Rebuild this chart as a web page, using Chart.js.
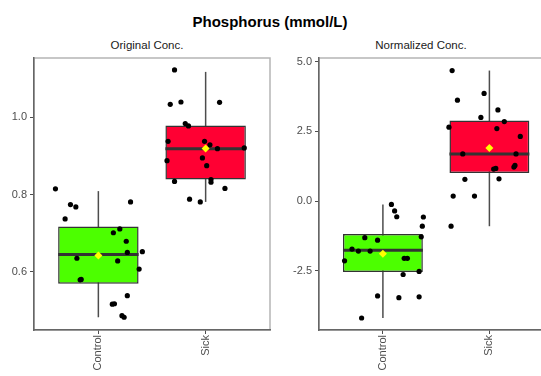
<!DOCTYPE html>
<html>
<head>
<meta charset="utf-8">
<script src="https://cdn.jsdelivr.net/npm/chart.js@4.4.1/dist/chart.umd.min.js"></script>
<style>
  body { margin: 0; width: 541px; height: 376px; overflow: hidden; background: #fff; position: relative;
         font-family: "Liberation Sans", Arial, sans-serif; }
  .title { position: absolute; left: 270px; top: 21px; transform: translate(-50%, -50%);
           font-weight: bold; font-size: 15px; color: #000; white-space: nowrap; }
  .sub { position: absolute; top: 45px; transform: translate(-50%, -50%);
         font-size: 11.5px; color: #1a1a1a; white-space: nowrap; }
  .panel { position: absolute; top: 0; height: 376px; }
</style>
</head>
<body>
<div class="title">Phosphorus (mmol/L)</div>
<div class="sub" style="left:147px">Original Conc.</div>
<div class="sub" style="left:421px">Normalized Conc.</div>
<div class="panel" style="left:0;width:280px"><canvas id="origChart"></canvas></div>
<div class="panel" style="left:275px;width:290px"><canvas id="normChart"></canvas></div>
<script>
const groups = ['Control', 'Sick'];

// original concentration, one value per sample, with horizontal jitter (in category units)
const origControl = [0.815, 0.774, 0.768, 0.737, 0.781, 0.701, 0.711, 0.679, 0.650, 0.652,
                     0.635, 0.628, 0.607, 0.579, 0.580, 0.538, 0.516, 0.517, 0.486, 0.482];
const origControlJitter = [-0.40, -0.26, -0.21, -0.31, 0.30, 0.14, 0.20, 0.26, 0.27, 0.41,
                           -0.20, 0.18, 0.38, -0.17, -0.16, 0.27, 0.13, 0.15, 0.22, 0.24];
const origSick = [1.123, 1.034, 1.040, 1.039, 0.984, 0.978, 0.938, 0.938, 0.929, 0.919,
                  0.921, 0.888, 0.895, 0.875, 0.834, 0.839, 0.832, 0.816, 0.788, 0.781];
const origSickJitter = [-0.29, -0.33, -0.23, 0.13, -0.19, -0.16, -0.35, -0.01, 0.04, 0.11,
                        0.36, -0.36, -0.03, 0.01, -0.29, 0.05, 0.05, 0.18, -0.15, -0.05];

// box stats [Control, Sick]
const origLower = [0.482, 0.781];
const origQ1 = [0.569, 0.839];
const origMedian = [0.645, 0.919];
const origQ3 = [0.717, 0.979];
const origUpper = [0.809, 1.118];
const origTicks = [0.6, 0.8, 1.0];
const origRange = [0.449, 1.154];

// normalized concentration
const normControl = [-0.12, -0.35, -0.56, -0.57, -0.90, -1.28, -1.31, -1.40, -1.72, -1.79,
                     -1.79, -2.14, -2.05, -2.05, -2.52, -2.63, -3.40, -3.46, -3.43, -4.19];
const normControlJitter = [0.08, 0.11, 0.13, 0.38, 0.37, 0.36, -0.17, -0.05, -0.29, -0.23,
                           -0.12, -0.36, 0.20, 0.23, 0.34, 0.19, -0.05, 0.15, 0.34, -0.20];
const normSick = [4.68, 3.62, 3.86, 3.27, 3.00, 2.85, 2.65, 2.60, 2.32, 1.69,
                  1.69, 1.28, 1.22, 1.15, 1.17, 0.78, 0.80, 0.18, 0.18, -0.90];
const normSickJitter = [-0.35, -0.30, -0.05, 0.08, -0.08, 0.14, -0.38, 0.07, 0.29, -0.25,
                        0.25, 0.24, 0.23, 0.04, 0.06, -0.23, 0.09, -0.34, -0.14, -0.36];

const normLower = [-4.19, -0.90];
const normQ1 = [-2.54, 1.01];
const normMedian = [-1.76, 1.69];
const normQ3 = [-1.18, 2.89];
const normUpper = [-0.12, 4.68];
const normTicks = [-2.5, 0, 2.5, 5.0];
const normRange = [-4.62, 5.13];

const boxColors = ['#4cff00', '#ff0033'];

Chart.defaults.font.family = '"Liberation Sans", Arial, sans-serif';

// panel frame, whiskers behind the boxes, median bar on top of them
const boxPlot = {
    id: 'boxPlot',
    beforeDraw(chart) {
        const a = chart.chartArea;
        const ctx = chart.ctx;
        ctx.save();
        ctx.strokeStyle = '#b5b5b5';
        ctx.lineWidth = 1.5;
        ctx.strokeRect(a.left, a.top, a.right - a.left, a.bottom - a.top);
        ctx.restore();
    },
    beforeDatasetsDraw(chart, args, opts) {
        const ctx = chart.ctx;
        const xs = chart.scales.x, ys = chart.scales.y;
        ctx.save();
        ctx.strokeStyle = '#4d4d4d';
        ctx.lineWidth = 1.5;
        opts.lower.forEach((lo, i) => {
            const x = xs.getPixelForValue(i + 1);
            ctx.beginPath();
            ctx.moveTo(x, ys.getPixelForValue(lo));
            ctx.lineTo(x, ys.getPixelForValue(opts.upper[i]));
            ctx.stroke();
        });
        ctx.restore();
    },
    afterDatasetDraw(chart, args, opts) {
        if (args.index !== 2) return;
        const ctx = chart.ctx;
        const ys = chart.scales.y;
        ctx.save();
        ctx.strokeStyle = '#333';
        ctx.lineWidth = 3;
        args.meta.data.forEach((bar, i) => {
            const p = bar.getProps(['x', 'width'], true);
            const y = ys.getPixelForValue(opts.median[i]);
            ctx.beginPath();
            ctx.moveTo(p.x - p.width / 2, y);
            ctx.lineTo(p.x + p.width / 2, y);
            ctx.stroke();
        });
        ctx.restore();
    }
};

function mean(arr) {
    return arr.reduce((s, v) => s + v, 0) / arr.length;
}

function createDatasets(ctrl, ctrlJitter, sick, sickJitter, q1, q3) {
    const points = [];
    ctrl.forEach((v, i) => points.push({ x: 1 + ctrlJitter[i], y: v }));
    sick.forEach((v, i) => points.push({ x: 2 + sickJitter[i], y: v }));
    const means = [ctrl, sick].map((arr, i) => ({ x: i + 1, y: mean(arr) }));
    const boxes = groups.map((g, i) => ({ x: i + 1, y: [q1[i], q3[i]] }));
    return [
        { type: 'scatter', data: means, pointStyle: 'rectRot', pointRadius: 4,
          backgroundColor: '#ffff00', borderWidth: 0 },
        { type: 'scatter', data: points, pointRadius: 2.6,
          backgroundColor: '#000', borderWidth: 0 },
        { type: 'bar', data: boxes, backgroundColor: boxColors, borderColor: '#333',
          borderWidth: 1.5, borderSkipped: false, barPercentage: 0.75, categoryPercentage: 1 }
    ];
}

function createScales(range, ticks, yWidth) {
    return {
        x: {
            type: 'linear', min: 0.4, max: 2.6, offset: false,
            afterFit: s => { s.height = 46; },
            afterBuildTicks: s => { s.ticks = groups.map((g, i) => ({ value: i + 1 })); },
            ticks: {
                autoSkip: false, minRotation: 90, maxRotation: 90, padding: 1,
                color: '#4d4d4d', font: { size: 11 },
                callback: v => groups[v - 1]
            },
            grid: { offset: false, drawOnChartArea: false, tickLength: 4, tickColor: '#4d4d4d' },
            border: { color: '#666', width: 1.5 }
        },
        y: {
            min: range[0], max: range[1], beginAtZero: false,
            afterFit: s => { s.width = yWidth; },
            afterBuildTicks: s => { s.ticks = ticks.map(v => ({ value: v })); },
            ticks: { padding: 3, color: '#4d4d4d', font: { size: 11 }, callback: v => v.toFixed(1) },
            grid: { drawOnChartArea: false, tickLength: 4, tickColor: '#4d4d4d' },
            border: { color: '#666', width: 1.5 }
        }
    };
}

function generateChart(id, datasets, scales, stats, padRight) {
    new Chart(document.getElementById(id), {
        type: 'scatter',
        data: { datasets: datasets },
        options: {
            responsive: true,
            maintainAspectRatio: false,
            animation: false,
            layout: { padding: { top: 58, right: padRight, bottom: 0, left: 0 } },
            scales: scales,
            plugins: {
                legend: { display: false },
                tooltip: { enabled: false },
                boxPlot: stats
            }
        },
        plugins: [boxPlot]
    });
}

generateChart('origChart',
    createDatasets(origControl, origControlJitter, origSick, origSickJitter, origQ1, origQ3),
    createScales(origRange, origTicks, 34),
    { lower: origLower, upper: origUpper, median: origMedian }, 10);

generateChart('normChart',
    createDatasets(normControl, normControlJitter, normSick, normSickJitter, normQ1, normQ3),
    createScales(normRange, normTicks, 44),
    { lower: normLower, upper: normUpper, median: normMedian }, 11.7);
</script>
</body>
</html>
